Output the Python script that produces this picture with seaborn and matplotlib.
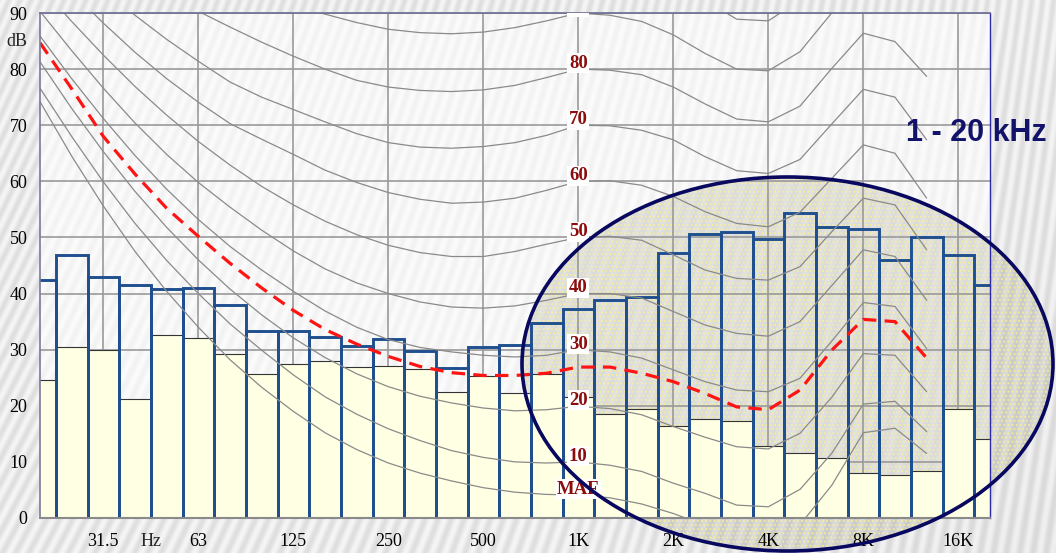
import numpy as np
import pandas as pd
import matplotlib
matplotlib.use("Agg")
import matplotlib.pyplot as plt
import matplotlib.transforms as mtransforms
from matplotlib.patches import Ellipse, Rectangle
import seaborn as sns

# bandas de terço de oitava, 20 Hz .. 20 kHz (posição = índice)
bandas = ["20", "25", "31.5", "40", "50", "63", "80", "100", "125", "160",
          "200", "250", "315", "400", "500", "630", "800", "1K", "1.25K", "1.6K",
          "2K", "2.5K", "3.15K", "4K", "5K", "6.3K", "8K", "10K", "12.5K", "16K", "20K"]

# nível máximo (contorno azul) e mínimo (preenchimento amarelo) por banda, dB
nivel_max = [42.5, 46.9, 42.9, 41.6, 40.9, 41.0, 38.0, 33.4, 33.3, 32.3, 30.7,
             31.9, 29.8, 26.8, 30.5, 30.8, 34.7, 37.2, 38.9, 39.4, 47.2, 50.6,
             51.0, 49.8, 54.3, 51.9, 51.5, 46.0, 50.1, 46.9, 41.6]
nivel_min = [24.6, 30.5, 29.9, 21.2, 32.7, 32.0, 29.2, 25.7, 27.4, 27.9, 26.9,
             27.1, 26.5, 22.5, 25.3, 22.2, 25.7, 21.5, 18.5, 19.5, 16.4, 17.6,
             17.3, 12.9, 11.5, 10.7, 8.1, 7.7, 8.3, 19.5, 14.0]

# curvas isofônicas, 20 Hz .. 12.5 kHz
curva_maf = [74.2, 64.5, 55.6, 47.5, 40.4, 34.0, 28.2, 23.3, 19.0, 15.2, 12.2, 9.8, 8.0, 6.6, 5.4,
             4.6, 4.2, 4.1, 3.6, 2.5, 0.8, -1.3, -3.6, -3.9, -1.2, 5.8, 15.2, 16.0, 11.5]
curva_10 = [76.6, 68.0, 59.9, 52.5, 45.9, 40.0, 34.6, 29.9, 25.5, 21.6, 18.5, 15.9, 13.8, 12.0, 10.8,
            10.0, 9.8, 10.0, 9.4, 8.3, 6.2, 4.4, 2.3, 2.0, 5.1, 11.5, 20.3, 20.8, 15.4]
curva_20 = [81.3, 73.0, 65.3, 58.2, 51.8, 46.0, 40.8, 36.2, 32.1, 28.6, 25.7, 23.4, 21.7, 20.5, 19.6,
            19.1, 19.3, 19.9, 19.5, 18.4, 16.3, 14.4, 12.7, 12.3, 15.1, 21.5, 29.3, 29.0, 22.5]
curva_30 = [85.9, 78.3, 71.2, 64.6, 58.6, 53.2, 48.4, 44.2, 40.4, 36.9, 34.0, 31.8, 30.4, 29.6, 29.0,
            28.7, 29.0, 30.0, 29.6, 28.5, 26.4, 24.3, 22.8, 22.5, 24.9, 31.5, 38.4, 37.7, 30.2]
curva_40 = [90.3, 83.3, 76.6, 70.4, 64.8, 59.8, 55.4, 51.3, 47.6, 44.4, 41.9, 40.0, 38.5, 37.6, 37.4,
            37.8, 38.8, 40.0, 40.0, 39.2, 36.8, 34.4, 32.9, 32.4, 35.0, 41.4, 47.8, 46.6, 38.8]
curva_50 = [94.8, 88.5, 82.5, 76.9, 71.8, 67.1, 62.9, 59.1, 55.8, 52.9, 50.5, 48.6, 47.3, 46.6, 46.6,
            47.5, 48.8, 50.0, 50.2, 49.5, 46.9, 44.2, 42.7, 42.4, 44.8, 51.0, 57.0, 55.8, 47.8]
curva_60 = [99.3, 93.8, 88.2, 83.0, 78.3, 74.1, 70.3, 67.5, 64.8, 62.0, 59.8, 58.0, 56.8, 56.1, 56.3,
            57.0, 58.4, 60.0, 60.1, 59.3, 57.3, 54.6, 52.5, 51.9, 54.5, 60.5, 66.5, 65.0, 57.0]
curva_70 = [103.8, 99.0, 94.2, 89.6, 85.3, 81.4, 77.7, 75.0, 72.8, 70.6, 68.5, 66.9, 66.1, 65.9, 66.2,
            66.9, 68.2, 70.0, 69.9, 69.1, 67.4, 64.4, 61.9, 61.4, 63.9, 70.2, 76.4, 75.0, 67.4]
curva_80 = [108.3, 104.0, 100.0, 96.4, 93.2, 90.3, 87.5, 84.8, 82.3, 80.0, 78.0, 76.8, 76.2, 76.0, 76.3,
            77.1, 78.5, 80.0, 79.8, 79.0, 76.8, 73.8, 71.1, 70.6, 73.4, 80.1, 86.4, 84.9, 78.7]
curva_90 = [113.0, 109.0, 105.5, 102.3, 99.5, 97.0, 94.8, 92.9, 91.3, 89.8, 88.3, 87.1, 86.5, 86.3, 86.6,
            87.4, 88.6, 90.0, 89.6, 88.5, 86.1, 82.8, 80.0, 79.7, 83.1, 90.0, 96.2, 95.0, 91.0]
curva_100 = [117.5, 114.0, 110.8, 108.0, 105.5, 103.4, 101.6, 100.0, 98.8, 97.8, 97.0, 96.5, 96.2, 96.1, 96.4,
             97.3, 98.6, 100.0, 99.6, 98.4, 95.9, 92.3, 88.9, 88.6, 92.3, 99.5, 106.0, 105.0, 101.0]

# limiar (linha vermelha tracejada), 20 Hz .. 12.5 kHz
limiar = [84.7, 76.5, 68.0, 61.3, 55.2, 50.2, 45.4, 41.0, 37.0, 33.6, 31.0, 28.8, 27.0, 25.9, 25.4,
          25.4, 25.8, 26.9, 26.9, 25.8, 24.3, 22.2, 19.8, 19.3, 22.8, 29.9, 35.4, 35.0, 28.5]

rotulos_x = ["31.5", "63", "125", "250", "500", "1K", "2K", "4K", "8K", "16K"]
rotulos_curvas = ["MAF", "10", "20", "30", "40", "50", "60", "70", "80", "90"]
valor_1k = [4.1, 10, 20, 30, 40, 50, 60, 70, 80, 90]

curvas = {"MAF": curva_maf, "10": curva_10, "20": curva_20, "30": curva_30, "40": curva_40,
          "50": curva_50, "60": curva_60, "70": curva_70, "80": curva_80, "90": curva_90,
          "100": curva_100}

sns.set_theme(style="white")
plt.rcParams["font.family"] = ["Liberation Serif", "DejaVu Serif"]
plt.rcParams["hatch.linewidth"] = 0.9

W, H = 1056, 553
fig = plt.figure(figsize=(W / 100, H / 100), dpi=100)

# fundo listrado do slide
ax_bg = fig.add_axes([0, 0, 1, 1], zorder=-5)
ax_bg.set_xlim(0, W)
ax_bg.set_ylim(H, 0)
ax_bg.axis("off")
yy, xx = np.mgrid[0:H, 0:W]
inclin = 0.45 - 0.32 * xx / W
textura = 0.915 + 0.045 * np.sin(2 * np.pi * (xx + yy * inclin) / 11.0)
textura -= 0.05 * np.clip((xx / W - 0.55) * (yy / H), 0, None)
ax_bg.imshow(textura, cmap="gray", vmin=0, vmax=1, extent=(0, W, H, 0), aspect="auto",
             interpolation="bilinear")
ax_bg.add_patch(Rectangle((40, 13), 950, 505, facecolor="white", alpha=0.62, lw=0))
ax_bg.add_patch(Ellipse((787.5, 364), 531, 374, facecolor="#9a9a9a", alpha=0.26, lw=0))
ax_bg.add_patch(Ellipse((787.5, 364), 531, 374, facecolor="none", edgecolor="#fbf38c",
                        hatch="....", lw=0, alpha=0.75))

ax = fig.add_axes([40 / W, 1 - 518 / H, 950 / W, 505 / H])
ax.patch.set_visible(False)

pos = list(range(len(bandas)))
pos_c = list(range(len(curva_maf)))

df_barras = pd.DataFrame({"pos": pos, "max": nivel_max, "min": nivel_min})
sns.barplot(data=df_barras, x="pos", y="min", native_scale=True, width=1.0,
            color="#ffffe3", saturation=1, edgecolor="#333333", linewidth=0.8,
            errorbar=None, ax=ax)
sns.barplot(data=df_barras, x="pos", y="max", native_scale=True, width=1.0,
            color="#1f4f8f", saturation=1, fill=False, linewidth=2.1,
            errorbar=None, ax=ax)

df_curvas = pd.concat(
    [pd.DataFrame({"pos": pos_c, "db": v, "curva": k}) for k, v in curvas.items()],
    ignore_index=True)
sns.lineplot(data=df_curvas, x="pos", y="db", units="curva", estimator=None,
             color="#8a8a8a", linewidth=0.9, sort=False, legend=False, ax=ax)

sns.lineplot(x=pos_c, y=limiar, color="#ff1414", linewidth=2.3,
             linestyle=(0, (4.2, 2.6)), ax=ax)

for rot, v in zip(rotulos_curvas, valor_1k):
    ax.text(bandas.index("1K"), v + 1.0, rot, ha="center", va="center", fontsize=13.5,
            fontweight="bold", color="#8b0d0d", zorder=6, clip_on=True,
            bbox=dict(boxstyle="square,pad=0.08", fc="white", ec="none"))

ax.set_xlim(0, len(bandas) - 1)
ax.set_ylim(0, 90)
ax.set_xticks([bandas.index(r) for r in rotulos_x])
ax.set_xticklabels(rotulos_x)
ax.set_xticks(pos, minor=True)
ax.set_yticks(range(0, 91, 10))
ax.set_yticks(range(5, 90, 10), minor=True)
ax.tick_params(axis="both", which="both", direction="out", length=5, width=1,
               color="#888888", labelsize=13, labelcolor="black")
ax.tick_params(axis="x", which="both", pad=6)
ax.tick_params(axis="y", which="both", pad=4)
ax.set_xlabel("")
ax.set_ylabel("")
ax.grid(True, which="major", color="#9a9a9a", linewidth=1.2)
ax.set_axisbelow(True)

for lado, cor, lw in [("top", "#6b6b95", 1.2), ("right", "#2a2aa8", 1.0),
                      ("left", "#7a7a9a", 1.2), ("bottom", "#8a8a8a", 1.5)]:
    ax.spines[lado].set_visible(True)
    ax.spines[lado].set_color(cor)
    ax.spines[lado].set_linewidth(lw)

mistura = mtransforms.blended_transform_factory(ax.transAxes, ax.transData)
ax.text(-13 / 950, 85, "dB", transform=mistura, ha="right", va="center", fontsize=13)
ax.text(3.5, -23 / 505, "Hz", transform=ax.get_xaxis_transform(), ha="center",
        va="center", fontsize=13)

fig.add_artist(Ellipse((787.5, 364), 531, 374, transform=ax_bg.transData,
                       facecolor="none", edgecolor="#08085f", lw=2.6, zorder=10))
fig.text(976 / W, 1 - 133 / H, "1 - 20 kHz", ha="center", va="center", fontsize=22,
         fontweight="bold", color="#12126b", family=["Liberation Sans", "DejaVu Sans"],
         zorder=11)

fig.savefig("out.png", dpi=100)
